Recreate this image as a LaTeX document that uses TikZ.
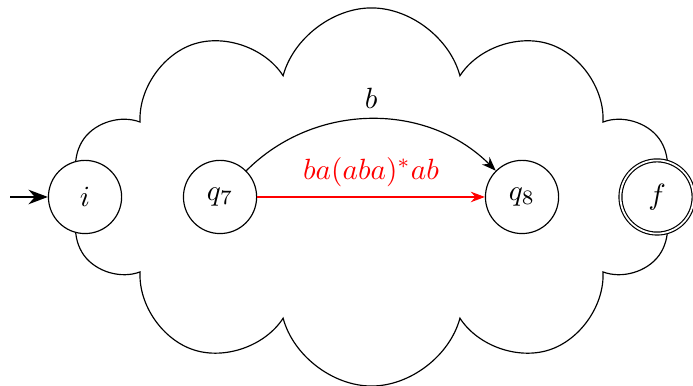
\documentclass[tikz,border=0pt]{standalone}
\usepackage{amsmath}
\usetikzlibrary{arrows.meta, positioning, automata, shapes.symbols}
\tikzset{state/.append style={minimum size=25pt, inner sep=0pt}}
\colorlet{cloudline}{black}
\colorlet{edgecol}{black}
\colorlet{shortcut}{red}

\begin{document}
\begin{tikzpicture}[>=Stealth]
\useasboundingbox (-1.021,-2.269) rectangle (7.300,2.365);

% Cloud
\node[cloud, draw=cloudline, cloud puffs=10, aspect=2.4, inner sep=0pt,
  minimum width=7.26cm, minimum height=4.54cm] (cloud) at (3.44,0) {};

% States
\node[state, fill=white] (i) at (0,0) {$i$};
\node[state] (q7) at (1.621,0) {$q_7$};
\node[state] (q8) at (5.247,0) {$q_8$};
\node[state, accepting, fill=white] (f) at (6.868,0) {$f$};

% Start arrow
\coordinate (start) at (-0.90,0);
\draw[->, thick] (start) -- (i);

% Transitions
\draw[->, edgecol] (q7) to[bend left=45] node[above] {$b$} (q8);
\draw[->, shortcut] (q7) -- (q8)
  node[midway, above, text=shortcut] {$ba(aba)^*ab$};

\end{tikzpicture}
\end{document}
